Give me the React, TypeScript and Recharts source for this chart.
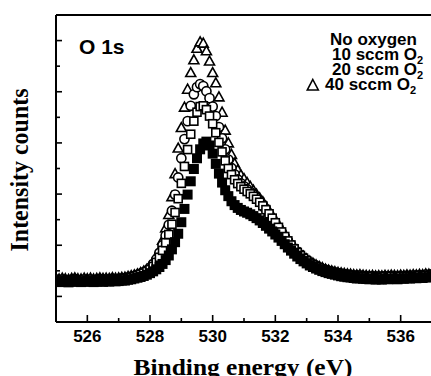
import { ScatterChart, Scatter, XAxis, YAxis } from "recharts";

// binding energy grid (eV)
const energies = [
  525.0, 525.1, 525.2, 525.3, 525.4, 525.5, 525.6, 525.7, 525.8, 525.9,
  526.0, 526.1, 526.2, 526.3, 526.4, 526.5, 526.6, 526.7, 526.8, 526.9,
  527.0, 527.1, 527.2, 527.3, 527.4, 527.5, 527.6, 527.7, 527.8, 527.9,
  528.0, 528.1, 528.2, 528.3, 528.4, 528.5, 528.6, 528.7, 528.8, 528.9,
  529.0, 529.1, 529.2, 529.3, 529.4, 529.5, 529.6, 529.7, 529.8, 529.9,
  530.0, 530.1, 530.2, 530.3, 530.4, 530.5, 530.6, 530.7, 530.8, 530.9,
  531.0, 531.1, 531.2, 531.3, 531.4, 531.5, 531.6, 531.7, 531.8, 531.9,
  532.0, 532.1, 532.2, 532.3, 532.4, 532.5, 532.6, 532.7, 532.8, 532.9,
  533.0, 533.1, 533.2, 533.3, 533.4, 533.5, 533.6, 533.7, 533.8, 533.9,
  534.0, 534.1, 534.2, 534.3, 534.4, 534.5, 534.6, 534.7, 534.8, 534.9,
  535.0, 535.1, 535.2, 535.3, 535.4, 535.5, 535.6, 535.7, 535.8, 535.9,
  536.0, 536.1, 536.2, 536.3, 536.4, 536.5, 536.6, 536.7, 536.8, 536.9,
  537.0,
];

// intensity (arb. units), one value per energy
const noOxygen = [
  1.58, 1.56, 1.59, 1.57, 1.55, 1.58, 1.6, 1.57, 1.56, 1.59,
  1.57, 1.59, 1.56, 1.58, 1.6, 1.57, 1.59, 1.58, 1.61, 1.59,
  1.6, 1.62, 1.62, 1.65, 1.67, 1.7, 1.73, 1.76, 1.8, 1.85,
  1.91, 1.98, 2.06, 2.15, 2.27, 2.42, 2.6, 2.84, 3.12, 3.45,
  3.9, 4.42, 4.98, 5.5, 5.98, 6.4, 6.75, 6.98, 7.05, 6.9,
  6.58, 6.18, 5.8, 5.45, 5.15, 4.92, 4.72, 4.57, 4.46, 4.38,
  4.32, 4.27, 4.21, 4.14, 4.06, 3.97, 3.87, 3.76, 3.65, 3.54,
  3.42, 3.3, 3.17, 3.04, 2.91, 2.79, 2.67, 2.56, 2.46, 2.37,
  2.29, 2.21, 2.15, 2.09, 2.04, 1.99, 1.95, 1.91, 1.88, 1.85,
  1.82, 1.79, 1.77, 1.75, 1.74, 1.72, 1.7, 1.71, 1.69, 1.68,
  1.67, 1.68, 1.66, 1.67, 1.66, 1.68, 1.67, 1.69, 1.68, 1.67,
  1.7, 1.69, 1.71, 1.7, 1.72, 1.71, 1.73, 1.72, 1.75, 1.74,
  1.76,
];

const sccm10 = [
  1.63, 1.61, 1.64, 1.62, 1.6, 1.63, 1.65, 1.62, 1.61, 1.64,
  1.62, 1.64, 1.61, 1.63, 1.65, 1.63, 1.64, 1.63, 1.66, 1.64,
  1.65, 1.67, 1.68, 1.71, 1.74, 1.77, 1.81, 1.86, 1.91, 1.97,
  2.05, 2.17, 2.33, 2.53, 2.8, 3.1, 3.42, 3.82, 4.28, 4.82,
  5.42, 6.08, 6.74, 7.34, 7.85, 8.2, 8.42, 8.45, 8.3, 8.05,
  7.75, 7.4, 7.02, 6.65, 6.3, 6.0, 5.76, 5.56, 5.41, 5.29,
  5.19, 5.1, 5.01, 4.91, 4.8, 4.68, 4.54, 4.39, 4.23, 4.06,
  3.88, 3.7, 3.52, 3.34, 3.17, 3.01, 2.86, 2.72, 2.6, 2.49,
  2.39, 2.3, 2.23, 2.17, 2.11, 2.06, 2.02, 1.98, 1.95, 1.92,
  1.89, 1.87, 1.85, 1.83, 1.81, 1.8, 1.78, 1.79, 1.77, 1.76,
  1.75, 1.76, 1.74, 1.75, 1.74, 1.76, 1.75, 1.77, 1.76, 1.75,
  1.77, 1.76, 1.78, 1.77, 1.79, 1.78, 1.8, 1.79, 1.82, 1.81,
  1.83,
];

const sccm20 = [
  1.66, 1.64, 1.67, 1.65, 1.63, 1.66, 1.68, 1.65, 1.64, 1.67,
  1.65, 1.67, 1.64, 1.66, 1.68, 1.66, 1.67, 1.66, 1.69, 1.67,
  1.68, 1.7, 1.71, 1.74, 1.77, 1.8, 1.84, 1.89, 1.95, 2.02,
  2.12, 2.27, 2.45, 2.7, 3.0, 3.38, 3.8, 4.35, 4.98, 5.65,
  6.4, 7.15, 7.85, 8.45, 8.9, 9.18, 9.3, 9.22, 9.02, 8.75,
  8.42, 8.05, 7.62, 7.18, 6.75, 6.35, 6.02, 5.77, 5.57, 5.42,
  5.3, 5.19, 5.08, 4.97, 4.85, 4.72, 4.57, 4.41, 4.24, 4.06,
  3.88, 3.7, 3.52, 3.34, 3.17, 3.01, 2.87, 2.74, 2.62, 2.51,
  2.41, 2.33, 2.25, 2.19, 2.13, 2.08, 2.04, 2.0, 1.97, 1.94,
  1.91, 1.89, 1.87, 1.85, 1.84, 1.82, 1.81, 1.82, 1.8, 1.79,
  1.78, 1.79, 1.77, 1.78, 1.77, 1.79, 1.78, 1.8, 1.79, 1.78,
  1.8, 1.79, 1.81, 1.8, 1.82, 1.81, 1.83, 1.82, 1.85, 1.84,
  1.86,
];

const sccm40 = [
  1.7, 1.68, 1.71, 1.69, 1.67, 1.7, 1.72, 1.69, 1.68, 1.71,
  1.69, 1.71, 1.68, 1.7, 1.72, 1.7, 1.71, 1.7, 1.73, 1.71,
  1.72, 1.74, 1.75, 1.78, 1.81, 1.84, 1.88, 1.93, 1.99, 2.06,
  2.15, 2.32, 2.52, 2.8, 3.2, 3.68, 4.2, 4.9, 5.8, 6.8,
  7.6, 8.4, 9.1, 9.75, 10.25, 10.7, 10.95, 10.9, 10.6, 10.2,
  9.75, 9.35, 8.8, 8.2, 7.5, 7.0, 6.55, 6.2, 5.95, 5.75,
  5.6, 5.45, 5.3, 5.15, 5.0, 4.85, 4.7, 4.52, 4.34, 4.15,
  3.97, 3.8, 3.62, 3.44, 3.27, 3.1, 2.95, 2.81, 2.68, 2.57,
  2.47, 2.38, 2.3, 2.23, 2.17, 2.12, 2.07, 2.03, 2.0, 1.97,
  1.94, 1.92, 1.9, 1.88, 1.87, 1.85, 1.84, 1.85, 1.83, 1.82,
  1.81, 1.82, 1.8, 1.81, 1.8, 1.82, 1.81, 1.83, 1.82, 1.81,
  1.83, 1.82, 1.84, 1.83, 1.85, 1.84, 1.86, 1.85, 1.88, 1.87,
  1.89,
];

const xTicks = [526, 527, 528, 529, 530, 531, 532, 533, 534, 535, 536];
const yTicks = [1, 2, 3, 4, 5, 6, 7, 8, 9, 10, 11];
const legendLabels = ["No oxygen", "10 sccm O", "20 sccm O", "40 sccm O"];

const toPoints = (ys: number[]) => energies.map((x, i) => ({ x, y: ys[i] }));

const SANS = "'Liberation Sans', Arial, sans-serif";
const SERIF = "'Liberation Serif', 'Times New Roman', serif";

function FilledSquare(props: any) {
  const { cx, cy } = props;
  return <rect x={cx - 5} y={cy - 5} width={10} height={10} fill="#000" />;
}

function OpenSquare(props: any) {
  const { cx, cy } = props;
  return <rect x={cx - 4} y={cy - 4} width={8} height={8} fill="#fff" stroke="#000" strokeWidth={1.6} />;
}

function OpenCircle(props: any) {
  const { cx, cy } = props;
  return <circle cx={cx} cy={cy} r={4.6} fill="#fff" stroke="#000" strokeWidth={1.6} />;
}

function OpenTriangle(props: any) {
  const { cx, cy } = props;
  const d = `M${cx},${cy - 5} L${cx + 5},${cy + 4} L${cx - 5},${cy + 4} Z`;
  return <path d={d} fill="#fff" stroke="#000" strokeWidth={1.6} strokeLinejoin="miter" />;
}

function BottomTick(props: any) {
  const { x, y, payload } = props;
  const major = payload.value % 2 === 0;
  return (
    <g>
      <line x1={x} x2={x} y1={y} y2={y - (major ? 7 : 4)} stroke="#000" strokeWidth={1.6} />
      {major && (
        <text x={x} y={y + 20} textAnchor="middle" fontFamily={SANS} fontWeight="bold" fontSize={17} fill="#000">
          {payload.value}
        </text>
      )}
    </g>
  );
}

function TopTick(props: any) {
  const { x, y } = props;
  return <line x1={x} x2={x} y1={y} y2={y + 4} stroke="#000" strokeWidth={1.6} />;
}

function LeftTick(props: any) {
  const { x, y, payload } = props;
  const major = payload.value % 2 === 1;
  return <line x1={x} x2={x + (major ? 6 : 4)} y1={y} y2={y} stroke="#000" strokeWidth={1.6} />;
}

export default function App() {
  return (
    <div style={{ position: "absolute", left: 0, top: 0, width: 431, height: 376, overflow: "hidden", background: "#fff" }}>
      <ScatterChart width={440} height={376} margin={{ top: 5, right: 8, bottom: 24, left: 26 }}>
        <XAxis
          type="number"
          dataKey="x"
          domain={[525, 537]}
          ticks={xTicks}
          height={30}
          tickSize={0}
          tickMargin={0}
          tickLine={false}
          tick={<BottomTick />}
          axisLine={{ stroke: "#000", strokeWidth: 2 }}
          allowDataOverflow
        />
        <XAxis
          xAxisId="top"
          orientation="top"
          type="number"
          dataKey="x"
          domain={[525, 537]}
          ticks={xTicks}
          height={10}
          tickSize={0}
          tickMargin={0}
          tickLine={false}
          tick={<TopTick />}
          axisLine={{ stroke: "#000", strokeWidth: 2 }}
        />
        <YAxis
          type="number"
          dataKey="y"
          domain={[0, 12]}
          ticks={yTicks}
          width={30}
          tickSize={0}
          tickMargin={0}
          tickLine={false}
          tick={<LeftTick />}
          axisLine={{ stroke: "#000", strokeWidth: 2 }}
          allowDataOverflow
        />
        <Scatter name="40 sccm O2" data={toPoints(sccm40)} shape={<OpenTriangle />} isAnimationActive={false} />
        <Scatter name="20 sccm O2" data={toPoints(sccm20)} shape={<OpenCircle />} isAnimationActive={false} />
        <Scatter name="10 sccm O2" data={toPoints(sccm10)} shape={<OpenSquare />} isAnimationActive={false} />
        <Scatter name="No oxygen" data={toPoints(noOxygen)} shape={<FilledSquare />} isAnimationActive={false} />
      </ScatterChart>

      <svg width={431} height={376} style={{ position: "absolute", left: 0, top: 0, pointerEvents: "none" }}>
        <text x={79} y={54} fontFamily={SANS} fontWeight="bold" fontSize={21} fill="#000">
          O 1s
        </text>

        {legendLabels.map((label, i) => (
          <text
            key={label}
            x={i === 0 ? 330 : i === 3 ? 325 : 332}
            y={45 + i * 15}
            fontFamily={SANS}
            fontWeight="bold"
            fontSize={17}
            fill="#000"
          >
            {label}
            {i > 0 && (
              <tspan fontSize={11} dy={4}>
                2
              </tspan>
            )}
          </text>
        ))}
        <path d="M312.8,79.5 L318.3,90 L307.3,90 Z" fill="none" stroke="#000" strokeWidth={1.6} />

        <text
          x={243}
          y={375}
          textAnchor="middle"
          fontFamily={SERIF}
          fontWeight="bold"
          fontSize={24}
          textLength={219}
          lengthAdjust="spacingAndGlyphs"
          fill="#000"
        >
          Binding energy (eV)
        </text>
        <text
          transform="translate(28,170) rotate(-90)"
          textAnchor="middle"
          fontFamily={SERIF}
          fontWeight="bold"
          fontSize={25}
          textLength={163}
          lengthAdjust="spacingAndGlyphs"
          fill="#000"
        >
          Intensity counts
        </text>
      </svg>
    </div>
  );
}
